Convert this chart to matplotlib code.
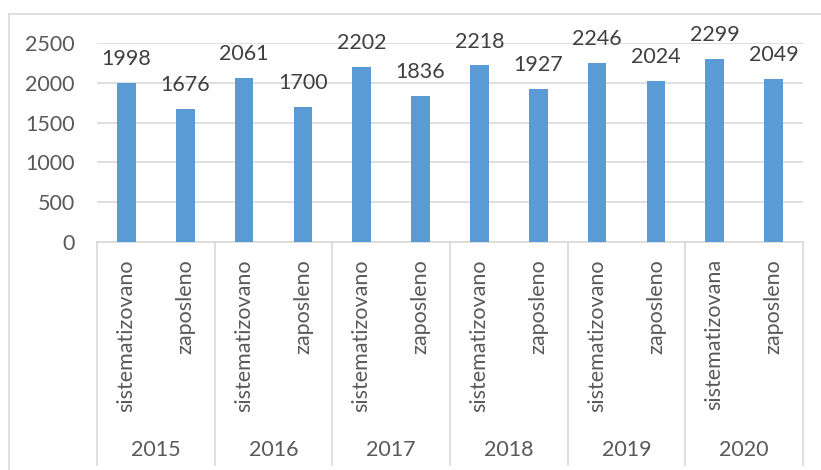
import matplotlib
matplotlib.use("Agg")
import matplotlib.pyplot as plt
import matplotlib.transforms as mtransforms
from matplotlib.lines import Line2D

# ─── Data ───────────────────────────────────────────────────────────
years = ["2015", "2016", "2017", "2018", "2019", "2020"]
categories = [
    "sistematizovano", "zaposleno",
    "sistematizovano", "zaposleno",
    "sistematizovano", "zaposleno",
    "sistematizovano", "zaposleno",
    "sistematizovano", "zaposleno",
    "sistematizovana", "zaposleno",
]
values = [1998, 1676, 2061, 1700, 2202, 1836, 2218, 1927, 2246, 2024, 2299, 2049]
y_ticks = [0, 500, 1000, 1500, 2000, 2500]

# ─── Style ──────────────────────────────────────────────────────────
plt.rcParams["font.family"] = ["Lato", "DejaVu Sans"]
BAR_COLOR = "#5B9BD5"
GRID_COLOR = "#D9D9D9"
TICK_COLOR = "#595959"
LABEL_COLOR = "#404040"
FS = 15.5
W, H = 821, 470

fig = plt.figure(figsize=(W / 100, H / 100), dpi=100)
ax = fig.add_axes([97 / W, (H - 242) / H, (803 - 97) / W, (242 - 43) / H])

x = [i + 0.5 for i in range(len(values))]
bars = ax.bar(x, values, width=0.32, color=BAR_COLOR, zorder=3)

ax.set_xlim(0, len(values))
ax.set_ylim(0, 2500)
ax.set_yticks(y_ticks)
ax.set_xticks([])
ax.tick_params(axis="y", length=0, pad=16, labelsize=FS, labelcolor=TICK_COLOR)
ax.grid(axis="y", color=GRID_COLOR, linewidth=1.2, zorder=0)
for side in ["left", "right", "top"]:
    ax.spines[side].set_visible(False)
ax.spines["bottom"].set_color(GRID_COLOR)
ax.spines["bottom"].set_linewidth(1.2)

# data labels
for b, v in zip(bars, values):
    ax.annotate(str(v), (b.get_x() + b.get_width() / 2, v),
                xytext=(0, 10), textcoords="offset points",
                ha="center", va="bottom", fontsize=FS, color=LABEL_COLOR)

# ─── Multi-level category axis ──────────────────────────────────────
trans = mtransforms.blended_transform_factory(ax.transData, ax.transAxes)
ax_h = 242 - 43
sep_bottom = -(465 - 242) / ax_h
for g in range(len(years) + 1):
    ax.add_line(Line2D([2 * g, 2 * g], [0, sep_bottom], transform=trans,
                       color=GRID_COLOR, linewidth=1.2, clip_on=False))

for xi, cat in zip(x, categories):
    ax.text(xi, -(259 - 242) / ax_h, cat, transform=trans, rotation=90,
            ha="center", va="top", fontsize=FS, color=TICK_COLOR)

for g, yr in enumerate(years):
    ax.text(2 * g + 1, -(450 - 242) / ax_h, yr, transform=trans,
            ha="center", va="center", fontsize=FS, color=TICK_COLOR)

# ─── Outer chart frame ──────────────────────────────────────────────
fig.add_artist(Line2D([8.5 / W, 8.5 / W], [0, 1 - 13.5 / H],
                      transform=fig.transFigure, color=GRID_COLOR, linewidth=1.2))
fig.add_artist(Line2D([8.5 / W, 1], [1 - 13.5 / H, 1 - 13.5 / H],
                      transform=fig.transFigure, color=GRID_COLOR, linewidth=1.2))

fig.savefig("out.png", dpi=100, facecolor="white")
